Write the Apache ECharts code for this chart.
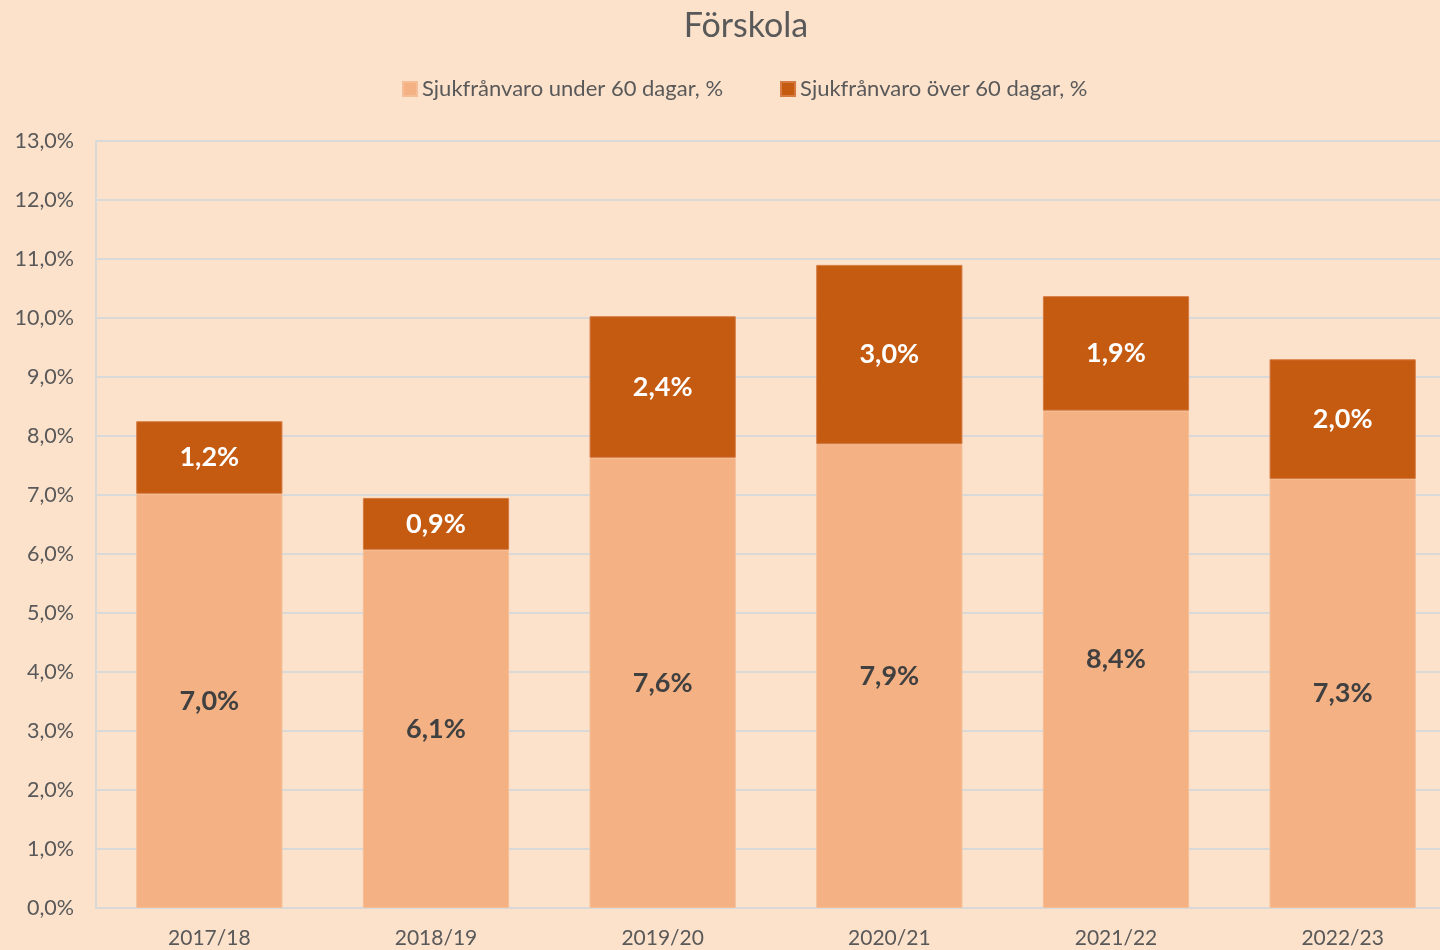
<!DOCTYPE html>
<html><head><meta charset="utf-8">
<script src="https://cdn.jsdelivr.net/npm/echarts@6/dist/echarts.min.js"></script>
<style>html,body{margin:0;padding:0;background:#FCE1CB;overflow:hidden;width:1440px;height:950px;}#c{width:1456px;height:950px;}</style>
</head><body><div id="c"></div>
<script>
const categories = ['2017/18','2018/19','2019/20','2020/21','2021/22','2022/23'];
const under60 = [7.02, 6.07, 7.63, 7.86, 8.43, 7.27];
const over60 = [1.23, 0.88, 2.40, 3.04, 1.94, 2.03];
const seriesNames = ['Sjukfrånvaro under 60 dagar, %', 'Sjukfrånvaro över 60 dagar, %'];
const yMin = 0, yMax = 13, yStep = 1;

const FONT = 'Lato';
const fmt = v => v.toFixed(1).replace('.', ',') + '%';
const chart = echarts.init(document.getElementById('c'));
chart.setOption({
  backgroundColor: '#FCE1CB',
  animation: false,
  textStyle: { fontFamily: FONT },
  title: { text: 'Förskola', left: 741, textAlign: 'center', top: 4, textStyle: { fontFamily: FONT, fontSize: 34, fontWeight: 'normal', color: '#595959' } },
  legend: {
    top: 73, left: 397, itemWidth: 14, itemHeight: 14, itemGap: 57,
    textStyle: { fontFamily: FONT, fontSize: 22, color: '#595959' },
    icon: 'rect', data: seriesNames
  },
  grid: { left: 96, top: 141, bottom: 42, right: 0, containLabel: false },
  xAxis: {
    type: 'category', data: categories,
    axisLine: { show: true, lineStyle: { color: '#D9D9D9', width: 2 } },
    axisTick: { show: false },
    axisLabel: { fontFamily: FONT, fontSize: 21, color: '#595959', margin: 20 }
  },
  yAxis: {
    type: 'value', min: yMin, max: yMax, interval: yStep,
    axisLine: { show: true, lineStyle: { color: '#D9D9D9', width: 2 } },
    axisTick: { show: false },
    splitLine: { lineStyle: { color: '#D9D9D9', width: 2 } },
    axisLabel: { fontFamily: FONT, fontSize: 21.5, color: '#595959', margin: 22, formatter: v => v.toFixed(1).replace('.', ',') + '%' }
  },
  series: [
    { name: seriesNames[0], type: 'bar', stack: 's', data: under60, barWidth: '64.5%',
      itemStyle: { color: '#F4B183', borderColor: '#F6BE96', borderWidth: 1 },
      label: { show: true, position: 'inside', formatter: p => fmt(p.value), fontFamily: FONT, fontSize: 27, fontWeight: 'bold', color: '#404040' } },
    { name: seriesNames[1], type: 'bar', stack: 's', data: over60, barWidth: '64.5%',
      itemStyle: { color: '#C55A11', borderColor: '#D57A40', borderWidth: 1 },
      label: { show: true, position: 'inside', formatter: p => fmt(p.value), fontFamily: FONT, fontSize: 27, fontWeight: 'bold', color: '#FFFFFF' } }
  ]
});
</script></body></html>
